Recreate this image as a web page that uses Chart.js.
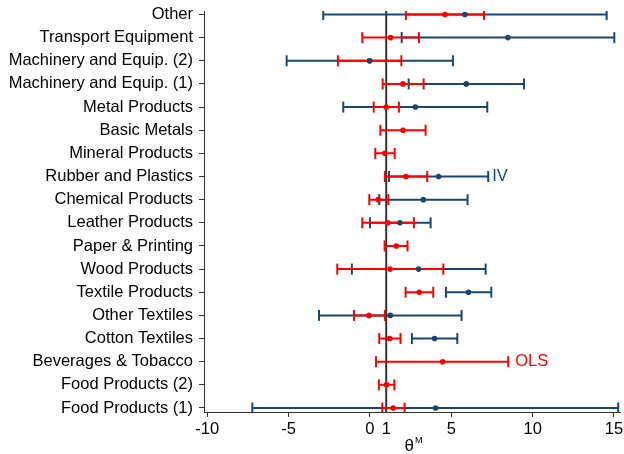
<!DOCTYPE html>
<html>
<head>
<meta charset="utf-8">
<script src="https://cdn.jsdelivr.net/npm/chart.js@4/dist/chart.umd.min.js"></script>
<style>
  html, body { margin: 0; padding: 0; background: #fff; }
</style>
</head>
<body>
<canvas id="grafico" width="624" height="454"></canvas>
<script>
// categorias, de arriba a abajo como en la figura
const sectores = [
    'Other', 'Transport Equipment', 'Machinery and Equip. (2)', 'Machinery and Equip. (1)',
    'Metal Products', 'Basic Metals', 'Mineral Products', 'Rubber and Plastics',
    'Chemical Products', 'Leather Products', 'Paper & Printing', 'Wood Products',
    'Textile Products', 'Other Textiles', 'Cotton Textiles', 'Beverages & Tobacco',
    'Food Products (2)', 'Food Products (1)'
];

// IV (null = sin estimacion)
const ivEst = [5.84, 8.48, -0.02, 5.92, 2.79, null, null, 4.22, 3.28, 1.84, null, 2.99, 6.06, 1.25, 3.97, null, null, 4.04];
const ivLo  = [-2.87, 1.95, -5.12, 2.38, -1.64, null, null, 1.17, 0.57, 0.00, null, -1.11, 4.67, -3.13, 2.58, null, null, -7.23];
const ivHi  = [14.55, 15.02, 5.10, 9.47, 7.21, null, null, 7.27, 6.00, 3.73, null, 7.11, 7.46, 5.63, 5.37, null, null, 15.26];

// OLS
const olsEst = [4.61, 1.27, -0.02, 2.03, 1.00, 2.03, 0.92, 2.21, 0.51, 1.10, 1.62, 1.24, 3.03, -0.06, 1.21, 4.47, 1.02, 1.43];
const olsLo  = [2.21, -0.47, -1.97, 0.78, 0.23, 0.64, 0.33, 0.92, -0.04, -0.47, 0.90, -2.01, 2.19, -0.98, 0.57, 0.37, 0.55, 0.76];
const olsHi  = [7.01, 3.01, 1.93, 3.30, 1.78, 3.42, 1.52, 3.52, 1.13, 2.70, 2.31, 4.51, 3.89, 0.92, 1.88, 8.50, 1.50, 2.13];

const xTicks = [-10, -5, 0, 1, 5, 10, 15];
const lineaRef = 1;

const azul = '#1a476f';
const rojo = '#ff0000';
const n = sectores.length;

Chart.defaults.font.family = "'Liberation Sans', Arial, sans-serif";
Chart.defaults.color = '#000';

const posY = (i) => n - i;

const intervalos = (lo, hi) => {
    let out = [];
    lo.forEach((l, i) => {
        if (l === null) return;
        out.push({x: l, y: posY(i)}, {x: hi[i], y: posY(i)}, {x: null, y: null});
    });
    return out;
}

const puntos = (est) => {
    let out = [];
    est.forEach((v, i) => {
        if (v === null) return;
        out.push({x: v, y: posY(i)});
    });
    return out;
}

const yMin = 0.827;
const yMax = 18.15;

const etiquetas = {
    id: 'etiquetas',
    afterDraw(chart) {
        const ctx = chart.ctx;
        const xs = chart.scales.x;
        const ys = chart.scales.y;
        ctx.save();
        ctx.font = "16.5px 'Liberation Sans', Arial, sans-serif";
        ctx.textBaseline = 'middle';
        ctx.textAlign = 'left';
        // IV junto a Rubber and Plastics
        let iIV = sectores.indexOf('Rubber and Plastics');
        ctx.fillStyle = azul;
        ctx.fillText('IV', xs.getPixelForValue(ivHi[iIV]) + 4, ys.getPixelForValue(posY(iIV)));
        // OLS junto a Beverages & Tobacco
        let iOLS = sectores.indexOf('Beverages & Tobacco');
        ctx.fillStyle = rojo;
        ctx.fillText('OLS', xs.getPixelForValue(olsHi[iOLS]) + 7, ys.getPixelForValue(posY(iOLS)));
        // titulo del eje x: theta^M
        const cx = (chart.chartArea.left + chart.chartArea.right) / 2;
        ctx.fillStyle = '#000';
        ctx.font = "17px 'Liberation Sans', Arial, sans-serif";
        ctx.textAlign = 'right';
        ctx.fillText('θ', cx + 2, 446);
        ctx.font = "9px 'Liberation Sans', Arial, sans-serif";
        ctx.textAlign = 'left';
        ctx.fillText('M', cx + 3, 441);
        ctx.restore();
    }
};

const ctx = document.getElementById('grafico');
const myChart = new Chart(ctx, {
    type: 'scatter',
    data: {
        datasets: [
            {
                label: 'ref',
                data: [{x: lineaRef, y: yMin}, {x: lineaRef, y: yMax}],
                showLine: true,
                borderColor: '#333333',
                borderWidth: 2,
                pointRadius: 0,
                order: 5
            },
            {
                label: 'IV',
                data: intervalos(ivLo, ivHi),
                showLine: true,
                borderColor: azul,
                borderWidth: 2,
                pointStyle: 'line',
                rotation: 90,
                pointRadius: 5.5,
                pointBorderWidth: 2,
                pointBorderColor: azul,
                order: 4
            },
            {
                label: 'OLS',
                data: intervalos(olsLo, olsHi),
                showLine: true,
                borderColor: rojo,
                borderWidth: 2,
                pointStyle: 'line',
                rotation: 90,
                pointRadius: 5.5,
                pointBorderWidth: 2,
                pointBorderColor: rojo,
                order: 3
            },
            {
                label: 'OLS est',
                data: puntos(olsEst),
                pointRadius: 2.8,
                pointBorderWidth: 0,
                pointBackgroundColor: rojo,
                order: 2
            },
            {
                label: 'IV est',
                data: puntos(ivEst),
                pointRadius: 2.8,
                pointBorderWidth: 0,
                pointBackgroundColor: azul,
                order: 1
            }
        ]
    },
    options: {
        responsive: false,
        animation: false,
        events: [],
        layout: { autoPadding: false, padding: { left: 0, right: 4, top: 11, bottom: 0 } },
        plugins: {
            legend: { display: false },
            tooltip: { enabled: false }
        },
        scales: {
            x: {
                type: 'linear',
                min: -10.2,
                max: 15.37,
                afterBuildTicks: (s) => { s.ticks = xTicks.map(v => ({value: v})); },
                afterFit: (s) => { s.height = 42; s.paddingLeft = 0; s.paddingRight = 0; },
                ticks: {
                    font: { size: 16.5 },
                    color: '#000',
                    padding: 3,
                    maxRotation: 0,
                    autoSkip: false
                },
                grid: {
                    drawOnChartArea: false,
                    tickLength: 5,
                    tickColor: (c) => (c.tick && c.tick.value === 1) ? 'rgba(0,0,0,0)' : '#333'
                },
                border: { color: '#333', width: 1 }
            },
            y: {
                type: 'linear',
                min: yMin,
                max: yMax,
                afterBuildTicks: (s) => { s.ticks = sectores.map((c, i) => ({value: posY(i)})); },
                afterFit: (s) => { s.width = 204; s.paddingTop = 0; s.paddingBottom = 0; },
                ticks: {
                    font: { size: 16.5 },
                    color: '#000',
                    padding: 6,
                    autoSkip: false,
                    callback: (v) => sectores[n - v]
                },
                grid: {
                    drawOnChartArea: false,
                    tickLength: 5,
                    tickColor: '#333'
                },
                border: { color: '#333', width: 1 }
            }
        }
    },
    plugins: [etiquetas]
});
</script>
</body>
</html>
